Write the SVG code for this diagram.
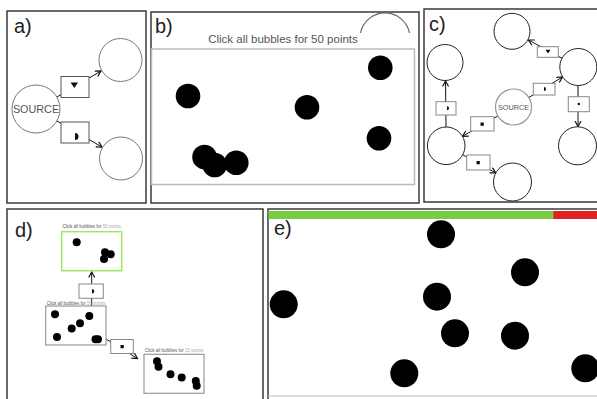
<svg xmlns="http://www.w3.org/2000/svg" width="597" height="399" viewBox="0 0 597 399">
<style>
.panel{fill:#fff;stroke:#3a3a3a;stroke-width:1.5}
.lbl{font-family:"Liberation Sans",Arial,sans-serif;font-size:20px;fill:#222}
.node{fill:#fff;stroke:#777;stroke-width:1}
.nodec{fill:#fff;stroke:#222;stroke-width:1}
.src{fill:#fff;stroke:#999;stroke-width:1.2}
.box{fill:#fff;stroke:#555;stroke-width:1}
.boxg{fill:#fff;stroke:#888;stroke-width:1}
.edge{stroke:#111;stroke-width:1;fill:none}
.b{fill:#000}
.t{font-family:"Liberation Sans",Arial,sans-serif;fill:#555}
.tl{fill:#aaa}
</style>
<defs>
<marker id="ah" markerWidth="8" markerHeight="8" refX="6" refY="3.5" orient="auto" markerUnits="userSpaceOnUse">
<path d="M0.5,0.5 L6,3.5 L0.5,6.5" fill="none" stroke="#111" stroke-width="1.2"/>
</marker>
</defs>
<rect width="597" height="399" fill="#fff"/>

<!-- Panel a -->
<g id="panel-a">
<rect class="panel" x="7" y="11" width="139" height="192"/>
<text class="lbl" x="14" y="33">a)</text>
</g>
<g id="a-connectors">
<line class="edge" x1="57" y1="97" x2="101" y2="71" marker-end="url(#ah)"/>
<line class="edge" x1="57" y1="121" x2="102" y2="147" marker-end="url(#ah)"/>
</g>
<g id="a-source">
<circle class="node" cx="36" cy="109" r="24"/>
<text class="t" x="36" y="113" font-size="10.8" text-anchor="middle" fill="#333">SOURCE</text>
</g>
<g id="a-target1"><circle class="node" cx="120.5" cy="60" r="21.5"/></g>
<g id="a-target2"><circle class="node" cx="121" cy="158.5" r="21.5"/></g>
<g id="a-label1">
<rect class="box" x="61" y="76.5" width="28" height="21"/>
<polygon points="70.5,82.5 78,82.5 74.3,88" fill="#111"/>
</g>
<g id="a-label2">
<rect class="box" x="61" y="122" width="28" height="21"/>
<path d="M75,133 A3.5,3.5 0 0 1 75,140 Z" fill="#111"/>
</g>

<!-- Panel b -->
<g id="panel-b">
<rect class="panel" x="151" y="12" width="268" height="191"/>
<text class="lbl" x="155" y="33">b)</text>
<path d="M360.5,33 A25,25 0 0 1 409.5,33" fill="none" stroke="#666" stroke-width="1.2"/>
<text class="t" x="283" y="42.5" font-size="11.5" text-anchor="middle" fill="#444">Click all bubbles for 50 points</text>
<rect x="151.5" y="49" width="263" height="135.5" fill="#fff" stroke="#bbb" stroke-width="1.5"/>
<circle class="b" cx="188" cy="96" r="12.3"/>
<circle class="b" cx="307" cy="107.3" r="12.3"/>
<circle class="b" cx="380.3" cy="67.7" r="12.3"/>
<circle class="b" cx="379" cy="138.3" r="12.3"/>
<circle class="b" cx="204.5" cy="157" r="12.3"/>
<circle class="b" cx="214.7" cy="165" r="12.3"/>
<circle class="b" cx="236.3" cy="162.7" r="12.3"/>
</g>

<!-- Panel c -->
<g id="panel-c">
<rect class="panel" x="424" y="9" width="176" height="193"/>
<text class="lbl" x="429" y="31">c)</text>
</g>
<g id="c-connectors">
<line class="edge" x1="562.5" y1="58.5" x2="528.5" y2="40" marker-end="url(#ah)"/>
<line class="edge" x1="528.8" y1="97.5" x2="562.5" y2="77" marker-end="url(#ah)"/>
<line class="edge" x1="578" y1="85.5" x2="578" y2="126.5" marker-end="url(#ah)"/>
<line class="edge" x1="446" y1="127" x2="445.5" y2="81" marker-end="url(#ah)"/>
<line class="edge" x1="497.9" y1="116" x2="462.5" y2="136.3" marker-end="url(#ah)"/>
<line class="edge" x1="462.7" y1="154.8" x2="495.8" y2="172.9" marker-end="url(#ah)"/>
</g>
<g id="c-top"><circle class="nodec" cx="512" cy="31.3" r="18"/></g>
<g id="c-leftup"><circle class="nodec" cx="445" cy="62.5" r="18"/></g>
<g id="c-rightup"><circle class="nodec" cx="578.3" cy="67" r="18.5"/></g>
<g id="c-source">
<circle class="src" cx="513.5" cy="107" r="18"/>
<text class="t" x="513.5" y="110" font-size="7.3" text-anchor="middle" fill="#777">SOURCE</text>
</g>
<g id="c-leftlow"><circle class="nodec" cx="446.2" cy="145.8" r="18.8"/></g>
<g id="c-rightlow"><circle class="nodec" cx="577.5" cy="145.8" r="19"/></g>
<g id="c-bottom"><circle class="nodec" cx="512.5" cy="182" r="19"/></g>
<g id="c-label1">
<rect class="boxg" x="537.3" y="46.7" width="21" height="10.6"/>
<polygon points="545.5,49.8 550.5,49.8 548,53.5" fill="#111"/>
</g>
<g id="c-label2">
<rect class="boxg" x="533.3" y="83.3" width="21.7" height="11.7"/>
<path d="M544,87 A2,2 0 0 1 544,91 Z" fill="#111"/>
</g>
<g id="c-label3">
<rect class="boxg" x="568.3" y="96.7" width="21" height="15"/>
<circle cx="578.8" cy="104" r="1.2" fill="#111"/>
</g>
<g id="c-label4">
<rect class="boxg" x="436" y="101.7" width="20" height="13.3"/>
<path d="M447,106.3 A2,2 0 0 1 447,110.3 Z" fill="#111"/>
</g>
<g id="c-label5">
<rect class="boxg" x="470.7" y="116.7" width="23.3" height="14.3"/>
<rect x="480.5" y="122.5" width="3.3" height="3.3" fill="#111"/>
</g>
<g id="c-label6">
<rect class="boxg" x="466.7" y="155" width="23.3" height="15"/>
<rect x="476.5" y="161" width="3.3" height="3.3" fill="#111"/>
</g>

<!-- Panel d -->
<g id="panel-d">
<rect class="panel" x="7" y="209" width="256" height="200"/>
<text class="lbl" x="15" y="237">d)</text>
</g>
<g id="d-connectors">
<line class="edge" x1="91.7" y1="306" x2="91.7" y2="272" marker-end="url(#ah)"/>
<line class="edge" x1="106" y1="339" x2="137.5" y2="358.5" marker-end="url(#ah)"/>
</g>
<g id="d-green">
<text class="t" x="91.7" y="228.3" font-size="4.5" text-anchor="middle" fill="#777">Click all bubbles for <tspan class="tl">50 points</tspan></text>
<rect x="61.7" y="231.7" width="60" height="39" fill="#fff" stroke="#9de860" stroke-width="1.5"/>
<circle class="b" cx="76.7" cy="242.3" r="4"/>
<circle class="b" cx="105" cy="252.3" r="4"/>
<circle class="b" cx="110.7" cy="254.3" r="4"/>
<circle class="b" cx="104" cy="259" r="4"/>
</g>
<g id="d-middle">
<text class="t" x="76" y="304.5" font-size="4.5" text-anchor="middle" fill="#777">Click all bubbles for <tspan class="tl">50 points</tspan></text>
<rect x="45.7" y="306" width="60.3" height="39" fill="#fff" stroke="#999" stroke-width="1.2"/>
<circle class="b" cx="55" cy="314.3" r="4"/>
<circle class="b" cx="71.7" cy="328.5" r="4"/>
<circle class="b" cx="80" cy="323.3" r="4"/>
<circle class="b" cx="89.3" cy="316" r="4"/>
<circle class="b" cx="57" cy="337" r="4"/>
<circle class="b" cx="95.5" cy="339.3" r="4"/>
<circle class="b" cx="98" cy="339.3" r="4"/>
</g>
<g id="d-bottom">
<text class="t" x="174" y="352.3" font-size="4.5" text-anchor="middle" fill="#777">Click all bubbles for <tspan class="tl">15 points</tspan></text>
<rect x="144" y="354.3" width="60" height="39" fill="#fff" stroke="#999" stroke-width="1.2"/>
<circle class="b" cx="157" cy="361.3" r="4"/>
<circle class="b" cx="158.5" cy="366.7" r="4"/>
<circle class="b" cx="170.5" cy="374.3" r="4"/>
<circle class="b" cx="181.7" cy="377.5" r="4"/>
<circle class="b" cx="195.8" cy="381" r="4"/>
<circle class="b" cx="196.7" cy="385.8" r="4"/>
</g>
<g id="d-label1">
<rect class="boxg" x="79" y="284" width="24.3" height="14.3"/>
<path d="M92,289 A2.2,2.2 0 0 1 92,293.4 Z" fill="#111"/>
</g>
<g id="d-label2">
<rect class="boxg" x="110.7" y="339.5" width="22.6" height="14"/>
<rect x="120.5" y="345" width="3.3" height="3.3" fill="#111"/>
</g>

<!-- Panel e -->
<g id="panel-e">
<rect class="panel" x="268" y="209" width="335" height="200"/>
<rect x="268.5" y="211" width="285" height="8" fill="#77cc44"/>
<rect x="553.3" y="211" width="44" height="8" fill="#dd2222"/>
<line x1="268.5" y1="396" x2="597" y2="396" stroke="#ddd" stroke-width="2"/>
<text class="lbl" x="274" y="235">e)</text>
<circle class="b" cx="441" cy="234.3" r="14"/>
<circle class="b" cx="525" cy="272.3" r="14"/>
<circle class="b" cx="283.7" cy="304.3" r="14"/>
<circle class="b" cx="437" cy="296.7" r="14"/>
<circle class="b" cx="455" cy="333.3" r="14"/>
<circle class="b" cx="515" cy="335.7" r="14"/>
<circle class="b" cx="404.3" cy="373.3" r="14"/>
<circle class="b" cx="585.3" cy="368.3" r="14"/>
</g>
</svg>
